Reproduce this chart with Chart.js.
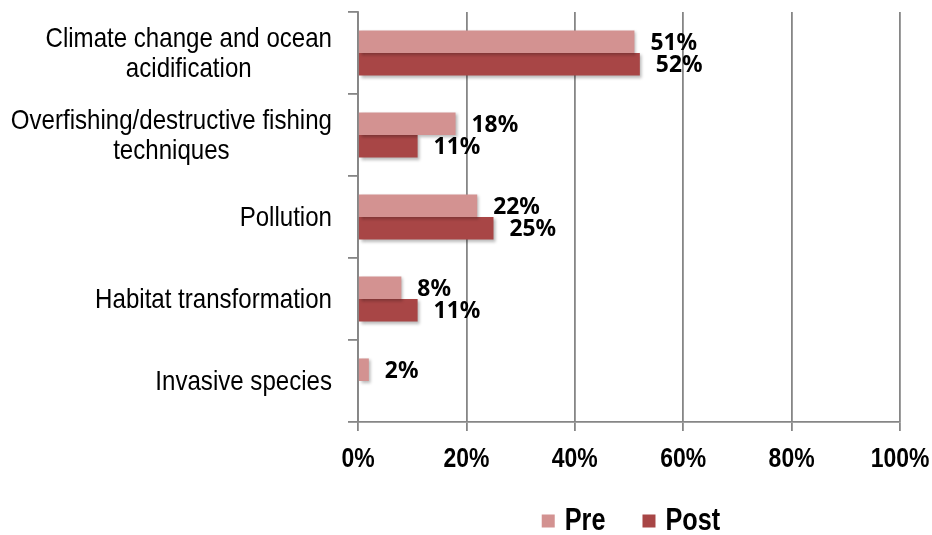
<!DOCTYPE html>
<html>
<head>
<meta charset="utf-8">
<script src="https://cdn.jsdelivr.net/npm/chart.js@4"></script>
<style>
  html, body { margin: 0; padding: 0; background: #fff; }
  #wrap { width: 932px; height: 535px; }
</style>
</head>
<body>
<div id="wrap"><canvas id="chart" width="932" height="535"></canvas></div>
<script>
const categories = [
  ['Climate change and ocean', 'acidification'],
  ['Overfishing/destructive fishing', 'techniques'],
  'Pollution',
  'Habitat transformation',
  'Invasive species'
]
const preValues = [51, 18, 22, 8, 2]
const postValues = [52, 11, 25, 11, null]
const xTicks = [0, 20, 40, 60, 80, 100]

const sans = "'Liberation Sans', Arial, sans-serif"
const gridColor = '#868686'

// no narrow font installed, so squeeze the text horizontally
function condensedText(ctx, text, x, y, sx, align) {
  ctx.save()
  ctx.translate(x, y)
  ctx.scale(sx, 1)
  ctx.textAlign = align
  ctx.fillText(text, 0, 0)
  ctx.restore()
}

// shadow under the bars + value labels next to them
const barExtras = {
  id: 'barExtras',
  beforeDatasetsDraw(chart) {
    const ctx = chart.ctx
    ctx.save()
    ctx.shadowColor = 'rgba(0,0,0,0.28)'
    ctx.shadowBlur = 3
    ctx.shadowOffsetX = 2
    ctx.shadowOffsetY = 2
  },
  afterDatasetsDraw(chart) {
    const ctx = chart.ctx
    ctx.restore()
    ctx.save()
    ctx.font = "bold 24px 'Noto Sans', 'Open Sans', sans-serif"
    ctx.fillStyle = '#000'
    ctx.textAlign = 'left'
    ctx.textBaseline = 'middle'
    chart.data.datasets.forEach((ds, di) => {
      const meta = chart.getDatasetMeta(di)
      meta.data.forEach((bar, i) => {
        const v = ds.data[i]
        if (v == null) return
        condensedText(ctx, v + '%', bar.x + 16, bar.y + 1, 0.95, 'left')
      })
    })
    ctx.restore()
  }
}

// axis texts and legend
const axisText = {
  id: 'axisText',
  afterDraw(chart) {
    const ctx = chart.ctx
    const area = chart.chartArea
    const x = chart.scales.x
    const y = chart.scales.y
    ctx.save()
    ctx.fillStyle = '#000'
    ctx.textBaseline = 'middle'

    // category labels: block right-aligned to the axis, lines centred in it
    ctx.font = '28px ' + sans
    const sy = 0.86
    const right = area.left - 26
    categories.forEach((label, i) => {
      const lines = Array.isArray(label) ? label : [label]
      const blockW = Math.max(...lines.map(l => ctx.measureText(l).width)) * sy
      const cx = right - blockW / 2
      const cy = y.getPixelForValue(i)
      lines.forEach((line, j) => {
        condensedText(ctx, line, cx, cy + (j - (lines.length - 1) / 2) * 30 + 1, sy, 'center')
      })
    })

    // x tick labels
    ctx.font = 'bold 28px ' + sans
    x.ticks.forEach(t => {
      condensedText(ctx, t.value + '%', x.getPixelForValue(t.value), area.bottom + 37, 0.82, 'center')
    })

    // legend
    const sl = 0.79
    ctx.font = 'bold 32px ' + sans
    const items = chart.data.datasets.map(ds => ({
      text: ds.label,
      color: ds.backgroundColor,
      w: ctx.measureText(ds.label).width * sl
    }))
    const box = 13, boxGap = 10, itemGap = 37
    const total = items.reduce((s, it) => s + box + boxGap + it.w, 0) + itemGap * (items.length - 1)
    let lx = (area.left + area.right) / 2 + 2 - total / 2
    const ly = 521
    items.forEach(it => {
      ctx.fillStyle = it.color
      ctx.fillRect(lx, ly - box / 2, box, box)
      ctx.fillStyle = '#000'
      condensedText(ctx, it.text, lx + box + boxGap, ly, sl, 'left')
      lx += box + boxGap + it.w + itemGap
    })
    ctx.restore()
  }
}

new Chart(document.getElementById('chart'), {
  type: 'bar',
  data: {
    labels: categories,
    datasets: [
      {
        label: 'Pre',
        data: preValues,
        backgroundColor: '#d39291',
        categoryPercentage: 0.55,
        barPercentage: 1
      },
      {
        label: 'Post',
        data: postValues,
        backgroundColor: '#a84646',
        categoryPercentage: 0.55,
        barPercentage: 1
      }
    ]
  },
  options: {
    indexAxis: 'y',
    responsive: false,
    animation: false,
    devicePixelRatio: 1,
    layout: { padding: { left: 0, right: 32, top: 12, bottom: 0 } },
    plugins: {
      tooltip: { enabled: false },
      legend: { display: false }
    },
    scales: {
      x: {
        min: 0,
        max: 100,
        afterFit(scale) { scale.height = 113 },
        afterBuildTicks(scale) { scale.ticks = xTicks.map(v => ({ value: v })) },
        grid: { color: gridColor, lineWidth: 1.8, tickLength: 9 },
        border: { color: gridColor, width: 1.8 },
        ticks: { display: false }
      },
      y: {
        afterFit(scale) { scale.width = 358 },
        grid: {
          offset: true,
          drawOnChartArea: false,
          color: gridColor,
          lineWidth: 1.8,
          tickLength: 10
        },
        border: { color: gridColor, width: 1.8 },
        ticks: { display: false }
      }
    }
  },
  plugins: [barExtras, axisText]
})
</script>
</body>
</html>
